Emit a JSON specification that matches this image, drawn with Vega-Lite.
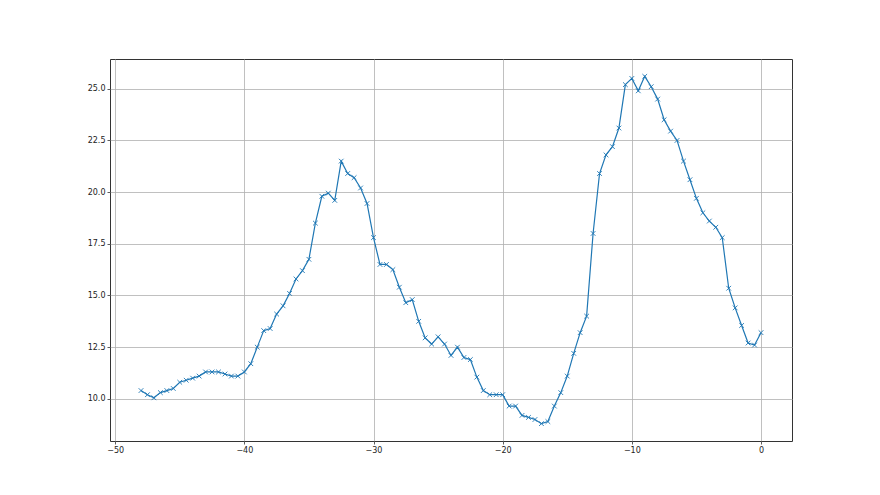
{
  "$schema": "https://vega.github.io/schema/vega-lite/v6.json",
  "width": 682,
  "height": 382,
  "autosize": {"type": "none"},
  "padding": {"left": 110, "top": 59, "right": 88, "bottom": 54},
  "background": "white",
  "config": {
    "view": {"stroke": "#333333", "strokeWidth": 1},
    "axis": {
      "domain": false,
      "grid": true,
      "gridColor": "#b0b0b0",
      "gridWidth": 0.8,
      "tickColor": "#333333",
      "tickSize": 3,
      "tickWidth": 0.8,
      "labelFont": "DejaVu Sans",
      "labelFontSize": 8,
      "labelColor": "#222222",
      "labelPadding": 2,
      "title": null
    }
  },
  "data": {
    "values": [
      {"x": -48, "y": 10.4}, {"x": -47.5, "y": 10.2}, {"x": -47, "y": 10.05}, {"x": -46.5, "y": 10.3},
      {"x": -46, "y": 10.4}, {"x": -45.5, "y": 10.5}, {"x": -45, "y": 10.8}, {"x": -44.5, "y": 10.9},
      {"x": -44, "y": 11.0}, {"x": -43.5, "y": 11.1}, {"x": -43, "y": 11.3}, {"x": -42.5, "y": 11.3},
      {"x": -42, "y": 11.3}, {"x": -41.5, "y": 11.2}, {"x": -41, "y": 11.1}, {"x": -40.5, "y": 11.1},
      {"x": -40, "y": 11.3}, {"x": -39.5, "y": 11.7}, {"x": -39, "y": 12.5}, {"x": -38.5, "y": 13.3},
      {"x": -38, "y": 13.4}, {"x": -37.5, "y": 14.1}, {"x": -37, "y": 14.5}, {"x": -36.5, "y": 15.1},
      {"x": -36, "y": 15.8}, {"x": -35.5, "y": 16.2}, {"x": -35, "y": 16.75}, {"x": -34.5, "y": 18.5},
      {"x": -34, "y": 19.8}, {"x": -33.5, "y": 19.95}, {"x": -33, "y": 19.6}, {"x": -32.5, "y": 21.5},
      {"x": -32, "y": 20.9}, {"x": -31.5, "y": 20.7}, {"x": -31, "y": 20.2}, {"x": -30.5, "y": 19.45},
      {"x": -30, "y": 17.8}, {"x": -29.5, "y": 16.5}, {"x": -29, "y": 16.5}, {"x": -28.5, "y": 16.25},
      {"x": -28, "y": 15.4}, {"x": -27.5, "y": 14.65}, {"x": -27, "y": 14.8}, {"x": -26.5, "y": 13.75},
      {"x": -26, "y": 12.95}, {"x": -25.5, "y": 12.65}, {"x": -25, "y": 13.0}, {"x": -24.5, "y": 12.65},
      {"x": -24, "y": 12.1}, {"x": -23.5, "y": 12.5}, {"x": -23, "y": 12.0}, {"x": -22.5, "y": 11.9},
      {"x": -22, "y": 11.05}, {"x": -21.5, "y": 10.4}, {"x": -21, "y": 10.2}, {"x": -20.5, "y": 10.2},
      {"x": -20, "y": 10.2}, {"x": -19.5, "y": 9.65}, {"x": -19, "y": 9.65}, {"x": -18.5, "y": 9.2},
      {"x": -18, "y": 9.1}, {"x": -17.5, "y": 9.0}, {"x": -17, "y": 8.8}, {"x": -16.5, "y": 8.9},
      {"x": -16, "y": 9.65}, {"x": -15.5, "y": 10.3}, {"x": -15, "y": 11.1}, {"x": -14.5, "y": 12.2},
      {"x": -14, "y": 13.2}, {"x": -13.5, "y": 14.0}, {"x": -13, "y": 18.0}, {"x": -12.5, "y": 20.9},
      {"x": -12, "y": 21.8}, {"x": -11.5, "y": 22.2}, {"x": -11, "y": 23.1}, {"x": -10.5, "y": 25.2},
      {"x": -10, "y": 25.5}, {"x": -9.5, "y": 24.9}, {"x": -9, "y": 25.6}, {"x": -8.5, "y": 25.1},
      {"x": -8, "y": 24.5}, {"x": -7.5, "y": 23.5}, {"x": -7, "y": 22.95}, {"x": -6.5, "y": 22.5},
      {"x": -6, "y": 21.5}, {"x": -5.5, "y": 20.6}, {"x": -5, "y": 19.7}, {"x": -4.5, "y": 19.0},
      {"x": -4, "y": 18.6}, {"x": -3.5, "y": 18.3}, {"x": -3, "y": 17.8}, {"x": -2.5, "y": 15.35},
      {"x": -2, "y": 14.4}, {"x": -1.5, "y": 13.55}, {"x": -1, "y": 12.7}, {"x": -0.5, "y": 12.6},
      {"x": 0, "y": 13.2}
    ]
  },
  "encoding": {
    "x": {
      "field": "x", "type": "quantitative",
      "scale": {"domain": [-50.4, 2.4], "nice": false, "zero": false},
      "axis": {"values": [-50, -40, -30, -20, -10, 0]}
    },
    "y": {
      "field": "y", "type": "quantitative",
      "scale": {"domain": [7.96, 26.44], "nice": false, "zero": false},
      "axis": {"values": [10, 12.5, 15, 17.5, 20, 22.5, 25], "format": ".1f"}
    }
  },
  "layer": [
    {"mark": {"type": "line", "color": "#1f77b4", "strokeWidth": 1.2}},
    {"mark": {"type": "point", "shape": "M-1,-1L1,1M-1,1L1,-1", "filled": false, "color": "#1f77b4", "size": 22, "strokeWidth": 0.9, "opacity": 1}}
  ]
}
